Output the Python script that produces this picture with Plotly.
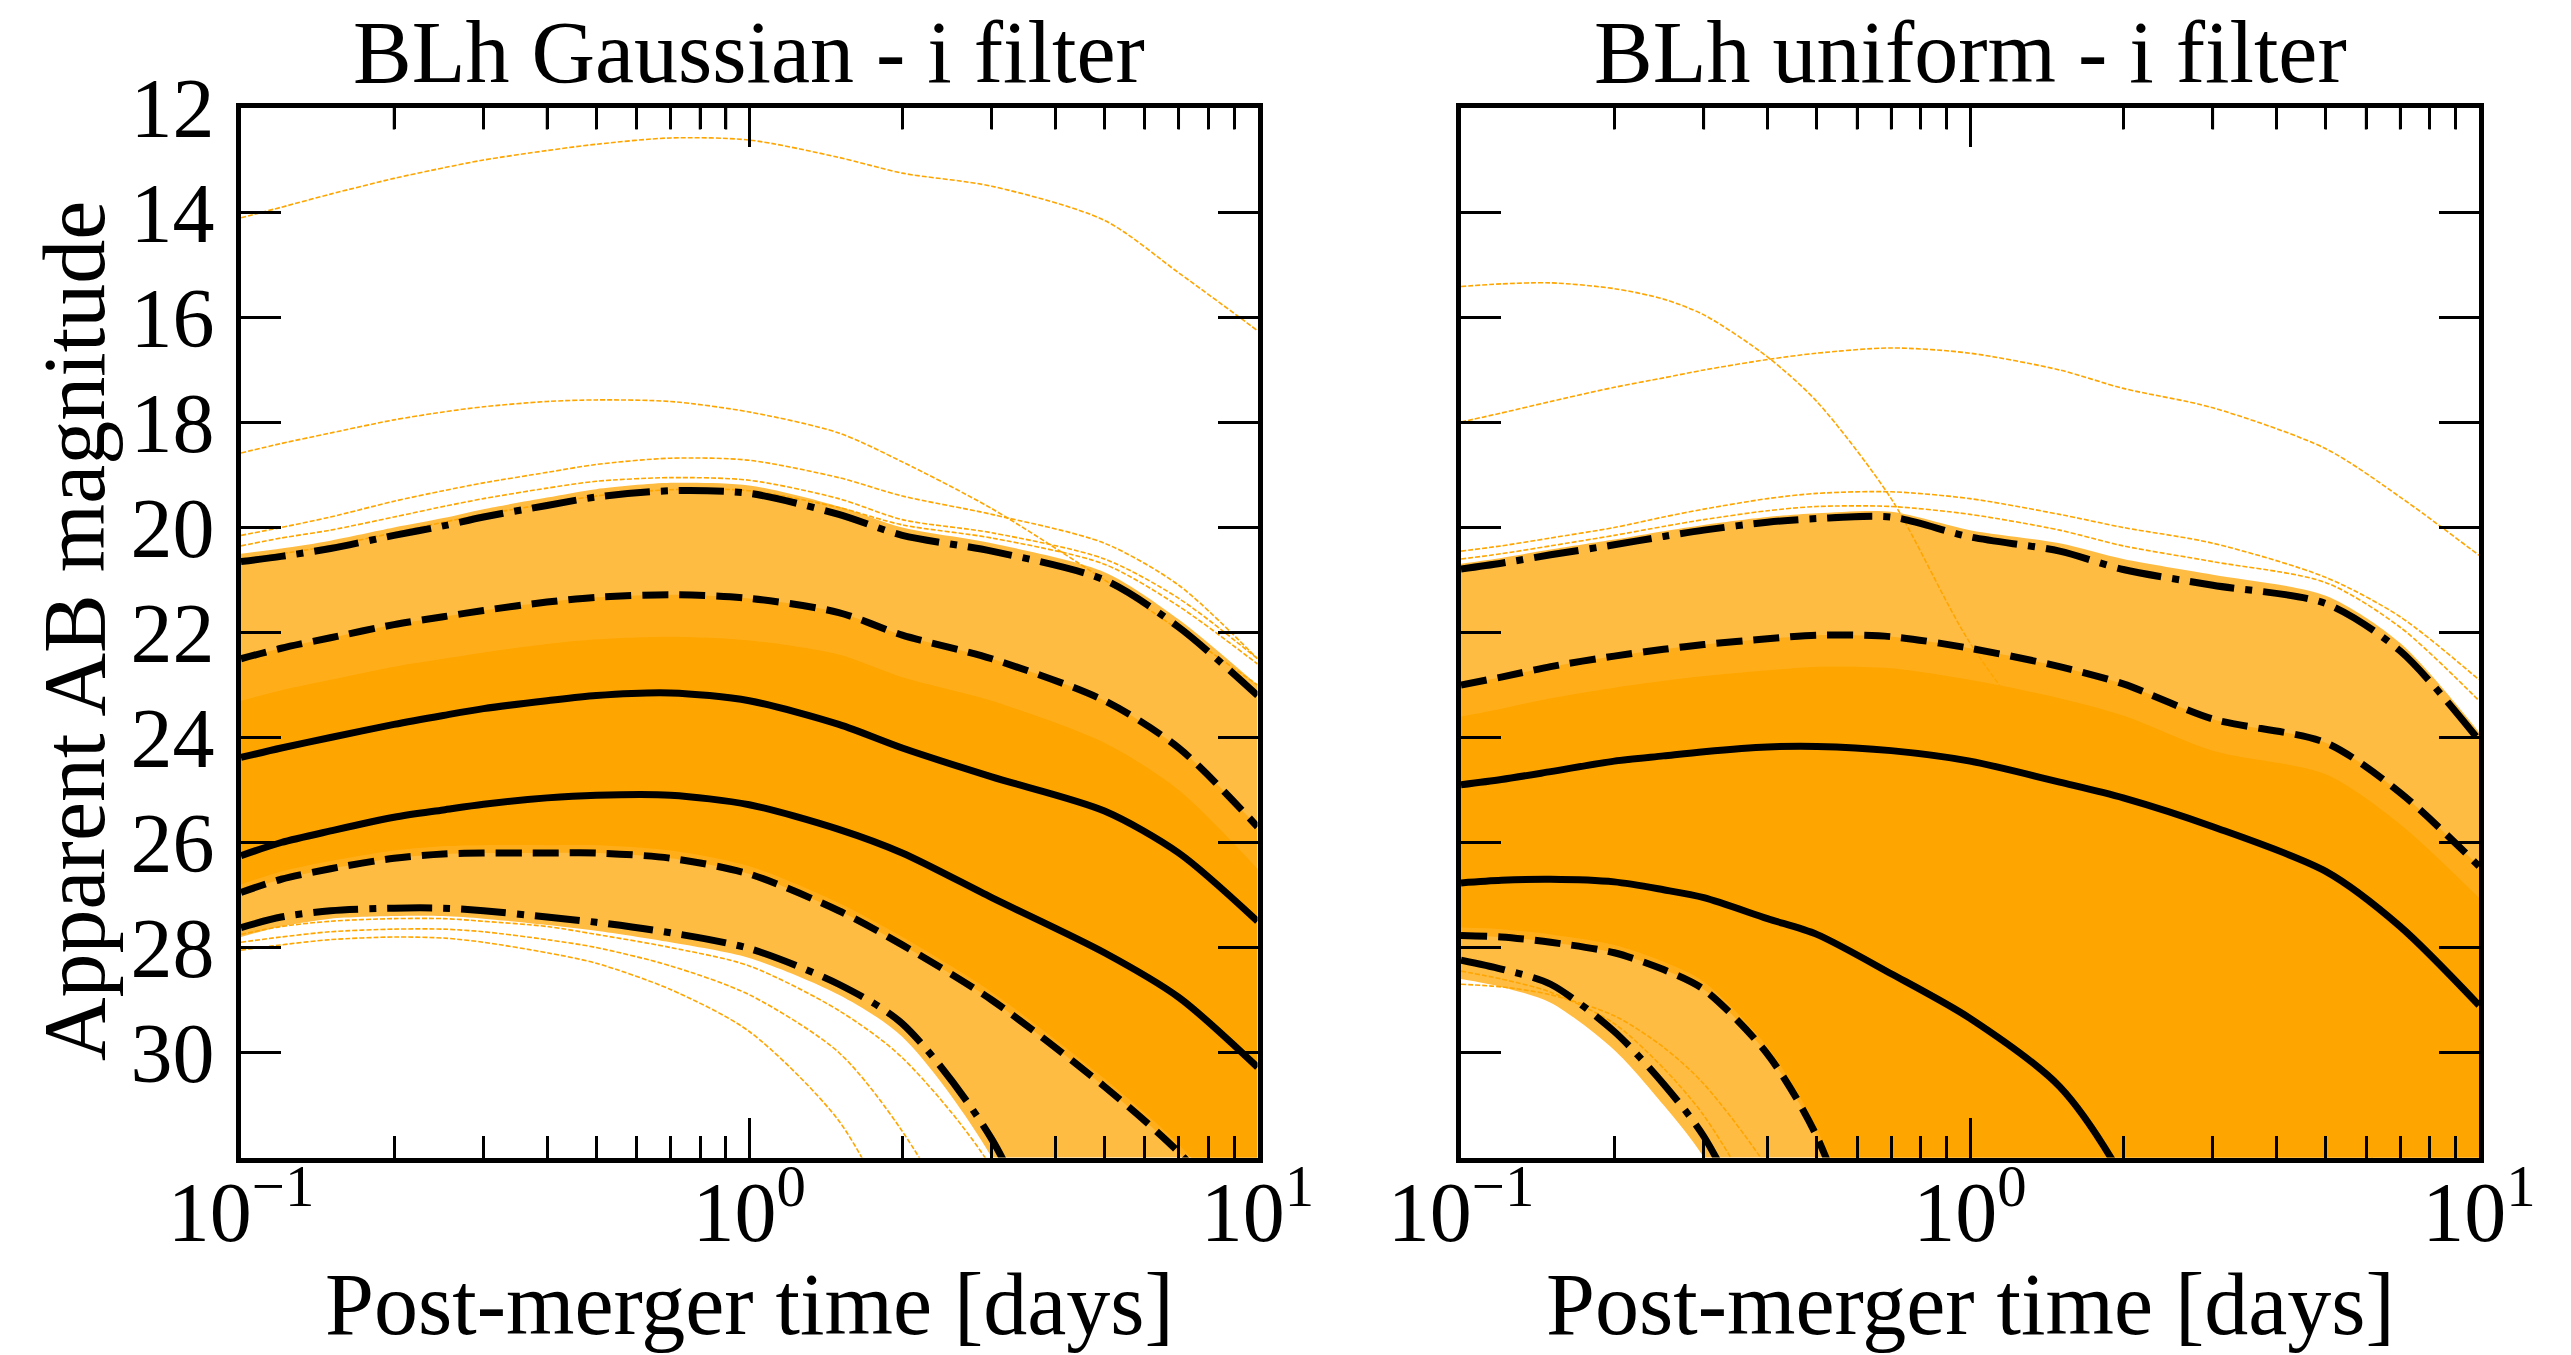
import plotly.graph_objects as go

# ---------------- data ----------------
T = [0.1, 0.12, 0.15, 0.2, 0.25, 0.3, 0.4, 0.5, 0.7, 1.0, 1.5, 2.0, 3.0, 5.0, 7.0, 10.0]

# Left panel: BLh Gaussian - i filter (percentile curves)
G_DASHDOT_UP = [20.65, 20.55, 20.4, 20.15, 19.97, 19.8, 19.58, 19.42, 19.3, 19.35, 19.75, 20.15, 20.45, 21.0, 21.9, 23.2]
G_DASH_UP = [22.5, 22.3, 22.1, 21.85, 21.7, 21.58, 21.42, 21.33, 21.28, 21.35, 21.62, 22.05, 22.5, 23.3, 24.2, 25.7]
G_SOLID_UP = [24.38, 24.2, 24.0, 23.75, 23.58, 23.45, 23.3, 23.2, 23.15, 23.3, 23.75, 24.2, 24.75, 25.4, 26.2, 27.5]
G_SOLID_LO = [26.25, 26.0, 25.78, 25.52, 25.38, 25.27, 25.15, 25.1, 25.1, 25.28, 25.75, 26.2, 27.05, 28.1, 28.95, 30.28]
G_DASH_LO = [26.95, 26.7, 26.5, 26.3, 26.22, 26.2, 26.2, 26.2, 26.3, 26.6, 27.3, 27.95, 29.0, 30.65, 31.9, 33.6]
G_DASHDOT_LO = [27.62, 27.42, 27.3, 27.25, 27.25, 27.3, 27.42, 27.52, 27.72, 28.02, 28.7, 29.45, 31.65, 36.5, 40.0, 44.0]

# Left panel: extent of the dense cloud of light curves
G_CLOUD_TOP = [20.5, 20.4, 20.25, 20.0, 19.82, 19.65, 19.43, 19.27, 19.15, 19.2, 19.6, 20.0, 20.3, 20.85, 21.75, 23.0]
G_CLOUD_BOT = [27.8, 27.6, 27.45, 27.4, 27.4, 27.45, 27.57, 27.68, 27.9, 28.2, 28.9, 29.7, 32.0, 37.0, 40.0, 44.0]
G_CORE_TOP = [23.3, 23.1, 22.9, 22.65, 22.5, 22.38, 22.22, 22.13, 22.08, 22.15, 22.42, 22.85, 23.3, 24.1, 25.0, 26.5]
G_CORE_BOT = [26.8, 26.55, 26.35, 26.15, 26.07, 26.05, 26.05, 26.05, 26.15, 26.45, 27.15, 27.8, 28.85, 30.5, 31.75, 33.5]

# Left panel: individually visible light curves
G_CURVE_1 = [14.1, 13.9, 13.65, 13.35, 13.15, 13.0, 12.82, 12.7, 12.58, 12.62, 12.95, 13.25, 13.5, 14.15, 15.15, 16.25]
G_CURVE_2 = [18.58, 18.4, 18.2, 17.95, 17.8, 17.7, 17.6, 17.57, 17.6, 17.8, 18.2, 18.75, 19.64, 21.0, 21.95, 23.0]
G_CURVE_3 = [20.15, 20.0, 19.8, 19.5, 19.3, 19.15, 18.95, 18.8, 18.68, 18.72, 19.05, 19.4, 19.75, 20.3, 21.1, 22.5]
G_CURVE_4 = [20.35, 20.2, 20.05, 19.8, 19.6, 19.45, 19.25, 19.12, 19.05, 19.1, 19.45, 19.85, 20.1, 20.6, 21.35, 22.5]
G_CURVE_5 = [20.6, 20.5, 20.35, 20.1, 19.9, 19.75, 19.55, 19.4, 19.28, 19.3, 19.62, 19.95, 20.2, 20.7, 21.5, 22.6]
G_CURVE_6 = [27.9, 27.8, 27.7, 27.65, 27.65, 27.7, 27.85, 28.0, 28.35, 28.9, 30.0, 31.5, 34.5, 40.0, 42.0, 44.0]
G_CURVE_7 = [28.05, 27.95, 27.85, 27.8, 27.82, 27.9, 28.1, 28.3, 28.8, 29.6, 31.3, 33.5, 37.0, 40.0, 42.0, 44.0]
G_CURVE_8 = [27.75, 27.6, 27.5, 27.45, 27.45, 27.5, 27.6, 27.75, 28.0, 28.35, 29.2, 30.1, 32.2, 37.0, 40.0, 44.0]

# Right panel: BLh uniform - i filter (percentile curves)
U_DASHDOT_UP = [20.79, 20.68, 20.52, 20.33, 20.17, 20.05, 19.9, 19.83, 19.8, 20.18, 20.45, 20.8, 21.1, 21.45, 22.35, 24.05]
U_DASH_UP = [23.0, 22.85, 22.65, 22.45, 22.32, 22.23, 22.12, 22.05, 22.08, 22.3, 22.65, 22.98, 23.65, 24.1, 25.05, 26.45]
U_SOLID_UP = [24.9, 24.8, 24.65, 24.45, 24.35, 24.27, 24.18, 24.17, 24.25, 24.45, 24.85, 25.15, 25.7, 26.55, 27.6, 29.1]
U_SOLID_LO = [26.77, 26.72, 26.7, 26.75, 26.9, 27.05, 27.45, 27.75, 28.5, 29.35, 30.65, 32.4, 36.0, 40.0, 42.0, 44.0]
U_DASH_LO = [27.77, 27.8, 27.9, 28.1, 28.42, 28.8, 30.03, 31.6, 35.5, 40.0, 42.0, 44.0, 44.0, 44.0, 44.0, 44.0]
U_DASHDOT_LO = [28.24, 28.41, 28.7, 29.6, 30.6, 31.6, 34.0, 36.5, 40.0, 44.0, 44.0, 44.0, 44.0, 44.0, 44.0, 44.0]

# Right panel: extent of the dense cloud of light curves
U_CLOUD_TOP = [20.69, 20.58, 20.42, 20.23, 20.07, 19.95, 19.8, 19.73, 19.7, 20.05, 20.3, 20.6, 20.9, 21.3, 22.2, 23.9]
U_CLOUD_BOT = [28.6, 28.75, 29.05, 29.95, 31.0, 32.0, 34.4, 37.0, 40.0, 44.0, 44.0, 44.0, 44.0, 44.0, 44.0, 44.0]
U_CORE_TOP = [23.6, 23.45, 23.25, 23.05, 22.92, 22.83, 22.72, 22.65, 22.68, 22.9, 23.25, 23.58, 24.25, 24.7, 25.65, 27.05]
U_CORE_BOT = [27.62, 27.65, 27.75, 27.95, 28.27, 28.65, 29.9, 31.45, 35.3, 40.0, 44.0, 44.0, 44.0, 44.0, 44.0, 44.0]

# Right panel: individually visible light curves
U_CURVE_1 = [15.41, 15.36, 15.34, 15.45, 15.65, 15.95, 16.75, 17.6, 19.45, 22.2, 24.5, 25.9, 27.8, 30.5, 33.0, 36.0]
U_CURVE_2 = [17.99, 17.82, 17.6, 17.33, 17.15, 17.0, 16.8, 16.68, 16.58, 16.68, 17.0, 17.35, 17.72, 18.5, 19.42, 20.53]
U_CURVE_3 = [20.45, 20.35, 20.2, 20.0, 19.8, 19.65, 19.45, 19.35, 19.32, 19.45, 19.75, 20.0, 20.3, 20.95, 21.7, 22.9]
U_CURVE_4 = [20.6, 20.5, 20.35, 20.15, 19.98, 19.85, 19.68, 19.6, 19.6, 19.75, 20.05, 20.35, 20.65, 21.05, 21.9, 23.3]
U_CURVE_5 = [28.7, 28.75, 28.9, 29.3, 29.9, 30.6, 32.2, 34.0, 37.0, 40.0, 44.0, 44.0, 44.0, 44.0, 44.0, 44.0]
U_CURVE_6 = [28.45, 28.6, 28.85, 29.45, 30.3, 31.2, 33.2, 35.0, 38.0, 41.0, 44.0, 44.0, 44.0, 44.0, 44.0, 44.0]

X_TICKS = [0.1, 1, 10]
X_TICKTEXT = ["10<sup>−1</sup>", "10<sup>0</sup>", "10<sup>1</sup>"]
X_MINOR = [0.2, 0.3, 0.4, 0.5, 0.6, 0.7, 0.8, 0.9, 2, 3, 4, 5, 6, 7, 8, 9]
Y_TICKS = [12, 14, 16, 18, 20, 22, 24, 26, 28, 30]

TITLES = ["BLh Gaussian - i filter", "BLh uniform - i filter"]
XLABEL = "Post-merger time [days]"
YLABEL = "Apparent AB magnitude"

# ---------------- styling ----------------
ORANGE = "rgb(255,165,0)"
FONT = "Liberation Serif"
FS = 84
FS_TITLE = 88
BLACK_W = 7
STYLES = {"solid": "solid", "dash": "26px,11px", "dashdot": "45px,11px,7px,11px"}

fig = go.Figure()


def add_band(top, bot, color, xa, ya):
    fig.add_trace(go.Scatter(x=T, y=bot, mode="lines", hoverinfo="skip", showlegend=False,
                             line=dict(width=0, shape="spline", smoothing=0.8),
                             xaxis=xa, yaxis=ya))
    fig.add_trace(go.Scatter(x=T, y=top, mode="lines", hoverinfo="skip", showlegend=False,
                             line=dict(width=0, shape="spline", smoothing=0.8),
                             fill="tonexty", fillcolor=color, xaxis=xa, yaxis=ya))


def add_thin(y, xa, ya):
    fig.add_trace(go.Scatter(x=T, y=y, mode="lines", hoverinfo="skip", showlegend=False,
                             line=dict(color=ORANGE, width=1.6, dash="5px,2px", shape="spline", smoothing=0.8),
                             xaxis=xa, yaxis=ya))


def add_black(y, style, xa, ya):
    fig.add_trace(go.Scatter(x=T, y=y, mode="lines", hoverinfo="skip", showlegend=False,
                             line=dict(color="black", width=BLACK_W, dash=STYLES[style],
                                       shape="spline", smoothing=0.8),
                             xaxis=xa, yaxis=ya))


panels = [
    ("x", "y", (G_CLOUD_TOP, G_CLOUD_BOT), (G_DASH_UP, G_DASH_LO), (G_CORE_TOP, G_CORE_BOT),
     [G_CURVE_1, G_CURVE_2, G_CURVE_3, G_CURVE_4, G_CURVE_5, G_CURVE_6, G_CURVE_7, G_CURVE_8],
     [(G_DASHDOT_UP, "dashdot"), (G_DASH_UP, "dash"), (G_SOLID_UP, "solid"),
      (G_SOLID_LO, "solid"), (G_DASH_LO, "dash"), (G_DASHDOT_LO, "dashdot")]),
    ("x2", "y2", (U_CLOUD_TOP, U_CLOUD_BOT), (U_DASH_UP, U_DASH_LO), (U_CORE_TOP, U_CORE_BOT),
     [U_CURVE_1, U_CURVE_2, U_CURVE_3, U_CURVE_4, U_CURVE_5, U_CURVE_6],
     [(U_DASHDOT_UP, "dashdot"), (U_DASH_UP, "dash"), (U_SOLID_UP, "solid"),
      (U_SOLID_LO, "solid"), (U_DASH_LO, "dash"), (U_DASHDOT_LO, "dashdot")]),
]

for xa, ya, cloud, mid, core, curves, blacks in panels:
    add_band(cloud[0], cloud[1], "rgba(255,165,0,0.74)", xa, ya)
    add_band(mid[0], mid[1], "rgba(255,165,0,0.6)", xa, ya)
    add_band(core[0], core[1], ORANGE, xa, ya)
    for c in curves:
        add_thin(c, xa, ya)
    for yv, st in blacks:
        add_black(yv, st, xa, ya)

W, H = 2571, 1355
X_DOMAINS = [[241 / W, 1257.5 / W], [1461 / W, 2479 / W]]
Y_DOMAIN = [1 - 1157.5 / H, 1 - 107.5 / H]
PLOT_H = 1050.0
MINOR_LEN = 22

common_x = dict(type="log", range=[-1, 1], tickmode="array", tickvals=X_TICKS, ticktext=X_TICKTEXT,
                ticks="inside", ticklen=40, tickwidth=2.5, tickcolor="black",
                showline=True, linewidth=4.5, linecolor="black", mirror="ticks",
                showgrid=False, zeroline=False, automargin=False,
                tickfont=dict(family=FONT, size=FS, color="black"),
                minor=dict(tickmode="array", tickvals=X_MINOR, ticks="inside", ticklen=MINOR_LEN,
                           tickwidth=2.5, tickcolor="black", showgrid=False))
common_y = dict(range=[32, 12], tickmode="array", tickvals=Y_TICKS,
                ticks="inside", ticklen=40, tickwidth=2.5, tickcolor="black",
                showline=True, linewidth=4.5, linecolor="black", mirror="ticks",
                showgrid=False, zeroline=False, automargin=False,
                tickfont=dict(family=FONT, size=FS, color="black"))

# mirrored minor ticks along the top frame (placed through the x axis scale)
shapes = []
for xa, ya in (("x", "y"), ("x2", "y2")):
    for v in X_MINOR:
        shapes.append(dict(type="line", xref=xa, yref=ya + " domain", x0=v, x1=v,
                           y0=1.0, y1=1.0 - MINOR_LEN / PLOT_H,
                           line=dict(color="black", width=2.5), layer="above"))

fig.update_layout(
    width=W, height=H, margin=dict(l=0, r=0, t=0, b=0, autoexpand=False),
    paper_bgcolor="white", plot_bgcolor="white", showlegend=False,
    xaxis=dict(domain=X_DOMAINS[0], anchor="y", ticklabelstandoff=-22, **common_x),
    xaxis2=dict(domain=X_DOMAINS[1], anchor="y2", ticklabelstandoff=-22, **common_x),
    yaxis=dict(domain=Y_DOMAIN, anchor="x", ticklabelstandoff=5, **common_y),
    yaxis2=dict(domain=Y_DOMAIN, anchor="x2", showticklabels=False, **common_y),
    shapes=shapes,
)

ann_font = dict(family=FONT, size=FS_TITLE, color="black")
annotations = []
for i, dom in enumerate(X_DOMAINS):
    cx = (dom[0] + dom[1]) / 2
    annotations.append(dict(text=TITLES[i], x=cx, y=1 - 52 / H, xref="paper", yref="paper",
                            xanchor="center", yanchor="middle", showarrow=False, font=ann_font))
    annotations.append(dict(text=XLABEL, x=cx, y=1 - 1304 / H, xref="paper", yref="paper",
                            xanchor="center", yanchor="middle", showarrow=False, font=ann_font))
annotations.append(dict(text=YLABEL, x=74 / W, y=1 - 631 / H, xref="paper", yref="paper",
                        xanchor="center", yanchor="middle", textangle=-90, showarrow=False, font=ann_font))
fig.update_layout(annotations=annotations)

fig.write_html("out.html")
